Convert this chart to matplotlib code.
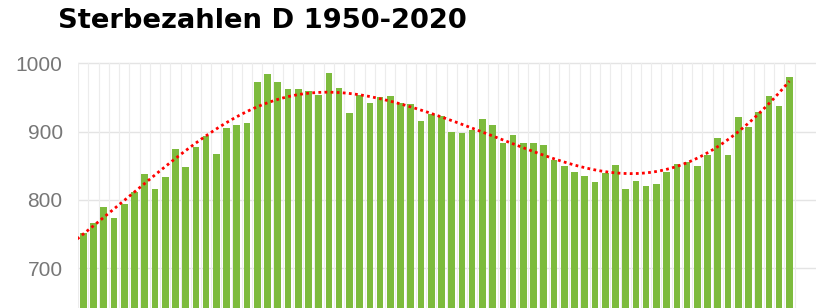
import numpy as np
import matplotlib
matplotlib.use("Agg")
import matplotlib.pyplot as plt

plt.rcParams['font.family'] = ['Liberation Sans', 'DejaVu Sans']

title = "Sterbezahlen D 1950-2020"
years = list(range(1951, 2021))
deaths_k = [751, 766, 789, 773, 794, 811, 838, 816, 833, 874,
            848, 877, 893, 867, 905, 909, 912, 973, 985, 973,
            962, 962, 960, 954, 986, 964, 928, 953, 942, 950,
            952, 942, 940, 916, 926, 923, 899, 898, 902, 919,
            909, 883, 895, 883, 883, 881, 858, 850, 841, 835,
            826, 839, 851, 816, 828, 820, 824, 841, 852, 856,
            849, 866, 891, 866, 922, 907, 929, 952, 937, 980]
y_ticks = [700, 800, 900, 1000]

W, H = 825, 308
fig = plt.figure(figsize=(W / 100, H / 100), dpi=100)
ax = fig.add_axes([78 / W, 0, (816 - 78) / W, (308 - 40) / H])

x = np.arange(len(years), dtype=float)
yv = np.array(deaths_k, dtype=float)
ax.bar(x, yv, width=0.65, color='#7dbb3d', zorder=2)


def smooth(xq, sigma=9.0, deg=2):
    """Gaussian-weighted local polynomial trend of the data."""
    out = []
    for q in xq:
        w = np.exp(-0.5 * ((x - q) / sigma) ** 2)
        c = np.polyfit(x - q, yv, deg, w=np.sqrt(w))
        out.append(c[-1])
    return np.array(out)


xt = np.linspace(-0.6, len(years) - 1, 300)
ax.plot(xt, smooth(xt), color='#ff0000', lw=2.0,
        linestyle=(0, (1, 1.2)), zorder=3)

ax.set_xlim(-0.52, 71.6)
ax.set_ylim(641.9, 1034.1)
ax.set_yticks(y_ticks)
ax.set_yticklabels([str(v) for v in y_ticks])
ax.set_xticks([])
ax.tick_params(axis='y', length=0, pad=11, labelsize=15, labelcolor='#777777')
for s in ax.spines.values():
    s.set_visible(False)

for v in y_ticks:
    ax.axhline(v, color='#e4e4e4', lw=1.0, zorder=0)
for b in np.arange(-0.5, len(years), 1.0):
    ax.plot([b, b], [641.9, 1000], color='#ececec', lw=0.8, zorder=0)

fig.text(58 / W, 1 - 28 / H, title, fontsize=19.7, fontweight='bold',
         family=['DejaVu Sans'], color='#000000', va='baseline', ha='left')

fig.savefig('out.png', dpi=100)
